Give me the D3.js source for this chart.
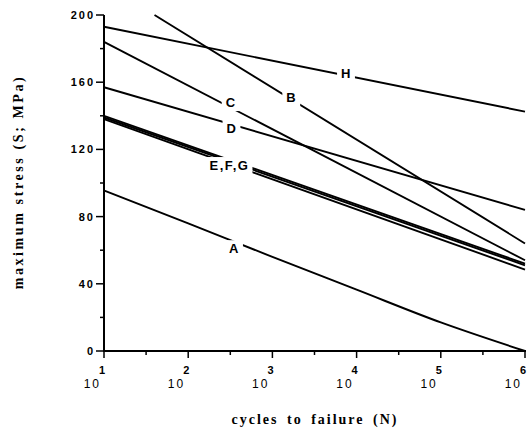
<!DOCTYPE html>
<html lang="en">
<head>
    <meta charset="utf-8">
    <script src="https://d3js.org/d3.v7.min.js"></script>
    <title>S-N curves</title>
    <style>
        body { margin: 0; background: #fff; }
        .curve { fill: none; stroke: #000; stroke-width: 1.9; }
        .axis-line { stroke: #000; stroke-width: 2; }
        .tick { stroke: #000; stroke-width: 1.5; }
        .lab { font-family: Arial, "Liberation Sans", sans-serif; font-weight: bold; fill: #000; }
        .title { font-family: "Times New Roman", "Liberation Serif", serif; font-weight: bold; fill: #000; }
    </style>
</head>
<body>
    <svg id="chart" width="528" height="430"></svg>
    <script>
        // curves: [cycles N, stress S in MPa]
        const curveA = [[1e1, 95.5], [1e2, 76], [1e3, 56], [1e4, 36.5], [1e5, 17], [1e6, 0]];
        const curveB = [[Math.pow(10, 1.6), 200], [1e6, 64]];
        const curveC = [[1e1, 184], [1e6, 54]];
        const curveD = [[1e1, 157], [1e6, 84]];
        const curveE = [[1e1, 140], [1e6, 52]];
        const curveF = [[1e1, 139], [1e6, 51]];
        const curveG = [[1e1, 138], [1e6, 48.5]];
        const curveH = [[1e1, 193], [1e6, 142.5]];

        // label text and position [N, S]
        const labelText = ["H", "B", "C", "D", "E,F,G", "A"];
        const labelPos = [
            [Math.pow(10, 3.88), 165],
            [Math.pow(10, 3.23), 151],
            [Math.pow(10, 2.51), 148],
            [Math.pow(10, 2.52), 132.5],
            [Math.pow(10, 2.49), 110.5],
            [Math.pow(10, 2.55), 61]
        ];

        const yMajor = [0, 40, 80, 120, 160, 200];
        const yMinor = [20, 60, 100, 140, 180];
        const xMajorExp = [1, 2, 3, 4, 5, 6];
        const xMinorExp = [1.5, 2.5, 3.5, 4.5, 5.5];

        const svg = d3.select("#chart");

        const x = d3.scaleLog().domain([1e1, 1e6]).range([104, 525]);
        const y = d3.scaleLinear().domain([0, 200]).range([351, 15]);

        const line = d3.line()
            .curve(d3.curveMonotoneX)
            .x(d => x(d[0]))
            .y(d => y(d[1]));

        const curves = [curveA, curveB, curveC, curveD, curveE, curveF, curveG, curveH];

        svg.selectAll(".curve")
            .data(curves)
            .enter().append("path")
            .attr("class", "curve")
            .attr("d", line);

        // labels sit in gaps of the curves
        const labels = svg.selectAll(".clabel")
            .data(labelText)
            .enter().append("g")
            .attr("class", "clabel")
            .attr("transform", (d, i) => `translate(${x(labelPos[i][0])},${y(labelPos[i][1])})`);

        labels.append("text")
            .attr("class", "lab")
            .attr("text-anchor", "middle")
            .attr("dy", "0.36em")
            .style("font-size", "13px")
            .style("letter-spacing", "1.5px")
            .text(d => d);

        labels.each(function () {
            const g = d3.select(this);
            const b = g.select("text").node().getBBox();
            g.insert("rect", "text")
                .attr("x", b.x - 4)
                .attr("y", b.y - 1)
                .attr("width", b.width + 7)
                .attr("height", b.height + 2)
                .attr("fill", "#fff");
        });

        // axes
        svg.append("line").attr("class", "axis-line")
            .attr("x1", 104).attr("x2", 104)
            .attr("y1", y(200)).attr("y2", y(0) + 1);
        svg.append("line").attr("class", "axis-line")
            .attr("x1", 103).attr("x2", 526)
            .attr("y1", y(0)).attr("y2", y(0));

        svg.selectAll(".ymaj")
            .data(yMajor)
            .enter().append("line")
            .attr("class", "tick")
            .attr("x1", 96).attr("x2", 104)
            .attr("y1", d => y(d)).attr("y2", d => y(d));

        svg.selectAll(".ymin")
            .data(yMinor)
            .enter().append("line")
            .attr("class", "tick")
            .attr("x1", 100).attr("x2", 104)
            .attr("y1", d => y(d)).attr("y2", d => y(d));

        svg.selectAll(".ylab")
            .data(yMajor)
            .enter().append("text")
            .attr("class", "lab")
            .attr("x", 95)
            .attr("y", d => y(d))
            .attr("dy", "0.36em")
            .attr("text-anchor", "end")
            .style("font-size", "11px")
            .style("letter-spacing", "2px")
            .text(d => d);

        svg.selectAll(".xmaj")
            .data(xMajorExp)
            .enter().append("line")
            .attr("class", "tick")
            .attr("x1", d => x(Math.pow(10, d))).attr("x2", d => x(Math.pow(10, d)))
            .attr("y1", y(0)).attr("y2", y(0) + 7);

        svg.selectAll(".xmin")
            .data(xMinorExp)
            .enter().append("line")
            .attr("class", "tick")
            .attr("x1", d => x(Math.pow(10, d))).attr("x2", d => x(Math.pow(10, d)))
            .attr("y1", y(0)).attr("y2", y(0) + 4);

        const xl = svg.selectAll(".xlab")
            .data(xMajorExp)
            .enter().append("g")
            .attr("transform", d => `translate(${x(Math.pow(10, d))},0)`);

        xl.append("text")
            .attr("class", "lab")
            .attr("x", -3)
            .attr("y", 388)
            .attr("text-anchor", "end")
            .style("font-size", "12px")
            .style("font-weight", "normal")
            .style("letter-spacing", "2px")
            .text("10");

        xl.append("text")
            .attr("class", "lab")
            .attr("x", -5)
            .attr("y", 374)
            .style("font-size", "11px")
            .text(d => d);

        // axis titles
        svg.append("text")
            .attr("class", "title")
            .attr("x", 315)
            .attr("y", 424)
            .attr("text-anchor", "middle")
            .style("font-size", "14px")
            .style("letter-spacing", "2px")
            .style("word-spacing", "3px")
            .text("cycles to failure (N)");

        svg.append("text")
            .attr("class", "title")
            .attr("transform", "translate(23,182) rotate(-90)")
            .attr("text-anchor", "middle")
            .style("font-size", "14px")
            .style("letter-spacing", "2.6px")
            .text("maximum stress (S; MPa)");
    </script>
</body>
</html>
